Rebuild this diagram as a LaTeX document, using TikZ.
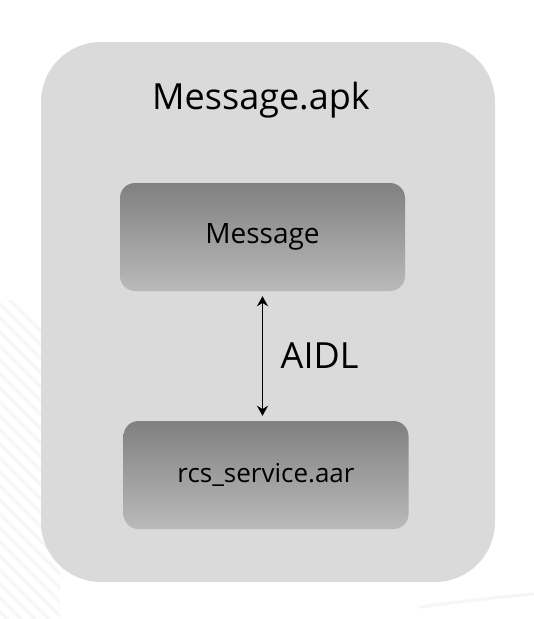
\documentclass[tikz,border=0pt]{standalone}
\usepackage{fontspec}
\setmainfont{Open Sans}
\usetikzlibrary{positioning}
\usetikzlibrary{arrows.meta}
\definecolor{apkgray}{HTML}{DADADA}
\definecolor{stripe}{HTML}{F6F6F6}
\tikzset{
  apkbox/.style={
    fill=apkgray,
    rounded corners=60pt,
    minimum width=454pt,
    minimum height=540pt,
    inner sep=0pt
  },
  modbox/.style={
    top color={rgb,255:red,128;green,128;blue,128},
    bottom color={rgb,255:red,186;green,186;blue,186},
    rounded corners=15pt,
    minimum width=285pt,
    minimum height=108pt,
    inner sep=0pt,
    font=\fontsize{28}{32}\selectfont
  },
  bigtext/.style={
    font=\fontsize{36}{40}\selectfont
  },
  ipc/.style={
    <->,
    >={Stealth[length=10pt,width=11pt]},
    line width=1.8pt
  }
}
\begin{document}
\begin{tikzpicture}[x=1pt,y=-1pt]
  \useasboundingbox[fill=white] (0,0) rectangle (534,619);
  % faint watermark stripes
  \begin{scope}
    \clip (0,300) rectangle (60,619);
    \foreach \k in {0,...,30}
      \draw[stripe,line width=3pt] (-40,250+\k*14) -- (120,410+\k*14);
  \end{scope}
  \draw[stripe,line width=3pt] (420,607) .. controls (470,600) and (510,596) .. (534,594);
  % container
  \node[apkbox] (apk) at (268,312) {};
  \node[bigtext] (title) at (261,100) {Message.apk};
  % modules
  \node[modbox] (msg) at (262.5,237) {Message};
  \node[modbox,font=\fontsize{26}{30}\selectfont] (rcs) at (266,475) {rcs\_service.aar};
  % link
  \draw[ipc] ([yshift=-5pt]msg.south) -- ([yshift=5pt]msg.south |- rcs.north)
    node[midway,right=14pt,bigtext] (aidl) {AIDL};
\end{tikzpicture}
\end{document}
